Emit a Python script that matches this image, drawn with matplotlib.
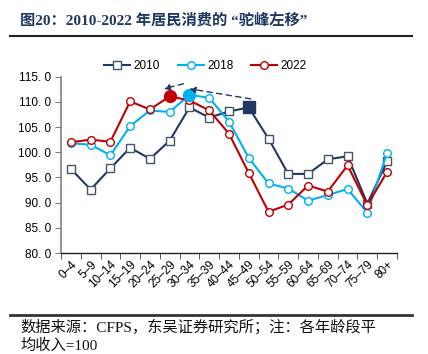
import matplotlib
matplotlib.use("Agg")
import matplotlib.pyplot as plt
from matplotlib.lines import Line2D

plt.rcParams['font.family'] = ['Liberation Sans', 'Noto Sans CJK SC', 'DejaVu Sans']

categories = ["0–4", "5–9", "10–14", "15–19", "20–24", "25–29", "30–34", "35–39",
              "40–44", "45–49", "50–54", "55–59", "60–64", "65–69", "70–74", "75–79", "80+"]
s2010 = [96.7, 92.6, 96.8, 100.9, 98.7, 102.3, 108.9, 106.9, 108.1, 108.9,
         102.7, 95.7, 95.7, 98.6, 99.2, 89.8, 98.2]
s2018 = [101.8, 101.5, 99.4, 105.2, 108.3, 108.0, 111.4, 110.8, 106.1, 98.9,
         93.8, 92.8, 90.4, 91.5, 92.7, 88.0, 99.9]
s2022 = [102.0, 102.5, 102.1, 110.1, 108.5, 111.1, 110.3, 108.3, 103.7, 95.9,
         88.2, 89.6, 93.4, 92.2, 97.4, 89.5, 96.1]
peak2010, peak2018, peak2022 = 9, 6, 5
yticks = [80, 85, 90, 95, 100, 105, 110, 115]
arrow1 = ((5.7, 113.6), (4.7, 112.6))
arrow2 = ((9.1, 110.6), (6.0, 112.6))

title = "图20：2010-2022 年居民消费的 “驼峰左移”"
footer_line1 = "数据来源：CFPS，东吴证券研究所；注：各年龄段平"
footer_line2 = "均收入=100"

c2010, c2018, c2022 = "#1F3864", "#00B0F0", "#C00000"
serif_cjk = ['Liberation Serif', 'Noto Sans CJK SC', 'DejaVu Sans']

fig = plt.figure(figsize=(4.28, 3.54), dpi=100)
ax = fig.add_axes([0.1425, 0.2853, 0.785, 0.498])
x = list(range(len(categories)))

ax.plot(x, s2010, color=c2010, lw=1.5, marker='s', ms=5.5, mfc='white',
        mec='#44546A', mew=1.0, label='2010', zorder=3)
ax.plot(x, s2018, color=c2018, lw=1.5, marker='o', ms=5.5, mfc='white',
        mec=c2018, mew=1.0, label='2018', zorder=4)
ax.plot(x, s2022, color=c2022, lw=1.5, marker='o', ms=5.5, mfc='white',
        mec=c2022, mew=1.0, label='2022', zorder=5)

ax.plot(peak2010, s2010[peak2010], marker='s', ms=8, color=c2010, zorder=6)
ax.plot(peak2018, s2018[peak2018], marker='o', ms=8.5, color=c2018, zorder=6)
ax.plot(peak2022, s2022[peak2022], marker='o', ms=8.5, color=c2022, zorder=7)

for (start, end) in (arrow1, arrow2):
    ax.annotate("", xy=end, xytext=start,
                arrowprops=dict(arrowstyle='-|>', linestyle=(0, (4, 3)),
                                color=c2010, lw=1.0, mutation_scale=9,
                                shrinkA=0, shrinkB=0), zorder=8)

ax.set_xlim(-0.5, len(categories) - 0.5)
ax.set_ylim(80, 115)
ax.set_yticks(yticks)
ax.set_yticklabels([f"{v:.1f}".replace(".", ". ") for v in yticks], fontsize=8.5)
ax.set_xticks(x)
ax.set_xticklabels(categories, rotation=45, ha='right', rotation_mode='anchor', fontsize=8.5)
ax.tick_params(axis='x', length=0, pad=4)
ax.set_xticks([i - 0.5 for i in range(len(categories) + 1)], minor=True)
ax.tick_params(axis='x', which='minor', length=4, direction='out', color='#404040')
ax.tick_params(axis='y', length=4, direction='out', color='#808080', pad=3)
for s in ('top', 'right'):
    ax.spines[s].set_visible(False)
ax.spines['left'].set_color('#808080')
ax.spines['left'].set_linewidth(1.2)
ax.spines['bottom'].set_color('#202020')
ax.spines['bottom'].set_linewidth(1.0)

ax.legend(loc='lower center', bbox_to_anchor=(0.43, 1.0), ncol=3, frameon=False,
          fontsize=8.5, handlelength=2.2, columnspacing=1.5, handletextpad=0.3,
          borderaxespad=0.0)

fig.text(20 / 428, 1 - 20 / 354, title, fontsize=11, fontweight='bold', color='#1F3864',
         va='center', ha='left', family=serif_cjk)
fig.add_artist(Line2D([10 / 428, 412 / 428], [1 - 36 / 354] * 2, color='#222222', lw=1.5))
fig.add_artist(Line2D([10 / 428, 412 / 428], [1 - 315 / 354] * 2, color='#333333', lw=2))
fig.text(20 / 428, 1 - 327 / 354, footer_line1, fontsize=11, color='#111111',
         va='center', ha='left', family=serif_cjk)
fig.text(20 / 428, 1 / 354, footer_line2, fontsize=11, color='#111111',
         va='bottom', ha='left', family=serif_cjk)

fig.savefig("out.png", dpi=100)
